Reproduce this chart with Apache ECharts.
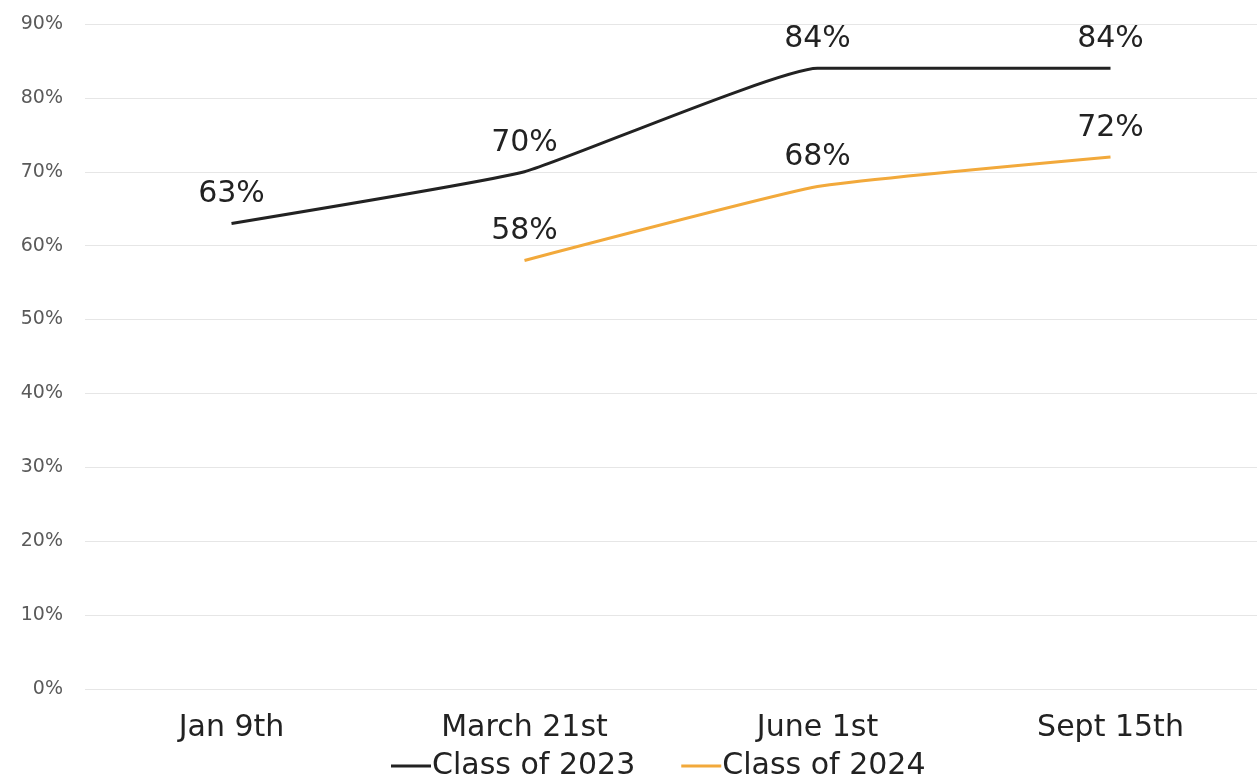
<!DOCTYPE html>
<html><head><meta charset="utf-8">
<script src="https://cdn.jsdelivr.net/npm/echarts@6/dist/echarts.min.js"></script>
<style>html,body{margin:0;padding:0;background:#fff}#c{width:1257px;height:779px}</style>
</head><body><div id="c"></div>
<script>
const categories = ["Jan 9th", "March 21st", "June 1st", "Sept 15th"];
const class2023 = [63, 70, 84, 84];
const class2024 = [null, 58, 68, 72];
const yTicks = [0, 10, 20, 30, 40, 50, 60, 70, 80, 90];

const FONT = 'DejaVu Sans';
const chart = echarts.init(document.getElementById('c'), null, {renderer: 'canvas'});
const lbl = {show: true, position: 'top', distance: 14, formatter: p => p.value + '%', fontSize: 30, color: '#222', fontFamily: FONT};
chart.setOption({
  animation: false,
  grid: {left: 85, right: -5, top: 24, bottom: 90, containLabel: false},
  legend: {
    bottom: -7, left: 386, itemWidth: 40, itemHeight: 3, itemGap: 46,
    icon: 'rect',
    textStyle: {fontSize: 30, color: '#222', fontFamily: FONT, padding: [0, 0, 0, -4]},
    data: ['Class of 2023', 'Class of 2024']
  },
  xAxis: {
    type: 'category', data: categories, boundaryGap: true,
    axisLine: {show: false}, axisTick: {show: false},
    axisLabel: {fontSize: 30, color: '#222', fontFamily: FONT, margin: 24}
  },
  yAxis: {
    type: 'value', min: 0, max: 90, interval: 10,
    axisLabel: {formatter: v => yTicks.includes(v) ? v + '%' : '', fontSize: 19, color: '#5a5a5a', fontFamily: FONT, margin: 22},
    splitLine: {lineStyle: {color: '#e6e6e6', width: 1}},
    axisLine: {show: false}, axisTick: {show: false}
  },
  series: [
    {name: 'Class of 2023', type: 'line', data: class2023, smooth: 0.12, symbol: 'circle', symbolSize: 0.1, showSymbol: true,
     lineStyle: {color: '#222222', width: 3}, itemStyle: {color: '#222222'}, label: lbl},
    {name: 'Class of 2024', type: 'line', data: class2024, smooth: 0.12, symbol: 'circle', symbolSize: 0.1, showSymbol: true,
     lineStyle: {color: '#f2a93b', width: 3}, itemStyle: {color: '#f2a93b'}, label: lbl}
  ]
});
</script></body></html>
